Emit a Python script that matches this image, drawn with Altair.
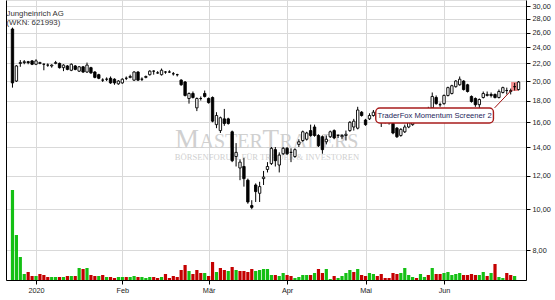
import altair as alt
import pandas as pd

# ---------------- data ----------------
opens = [26.5, 20.0, 22.0, 22.1, 22.2, 22.3, 21.9, 22.0, 21.9, 21.8,
         21.7, 22.0, 22.0, 21.5, 21.7, 21.2, 21.7, 21.1, 21.6, 21.0,
         21.5, 21.0, 20.7, 20.1, 20.2, 20.3, 20.2, 19.7, 19.8, 20.3,
         20.4, 20.1, 21.0, 20.2, 20.4, 20.7, 21.1, 20.9, 20.7, 21.0,
         21.0, 20.8, 20.7, 20.1, 19.9, 18.2, 18.7, 17.3, 18.2, 18.7,
         18.2, 18.3, 15.8, 15.3, 16.3, 16.3, 15.2, 13.3, 12.5, 12.6,
         11.7, 10.2, 11.4, 10.9, 11.8, 12.4, 12.8, 13.8, 12.7, 13.5,
         13.9, 13.6, 13.3, 14.2, 14.5, 14.6, 15.3, 15.6, 14.9, 14.8,
         14.4, 14.8, 15.3, 14.9, 14.8, 14.9, 15.3, 15.6, 15.5, 16.9,
         16.2, 16.3, 16.6, 16.6, 16.4, 16.1, 16.3, 15.9, 15.5, 14.9,
         15.2, 15.6, 15.8, 16.2, 16.6, 16.9, 16.8, 17.3, 18.3, 17.6,
         17.7, 18.5, 18.7, 19.4, 19.6, 20.0, 19.6, 18.4, 18.2, 17.6,
         18.3, 18.5, 18.6, 18.6, 18.3, 18.8, 19.0, 18.9, 19.4, 19.1]
closes = [19.8, 21.7, 22.1, 22.2, 22.1, 21.9, 22.3, 22.1, 21.9, 21.8,
          21.8, 22.1, 21.5, 21.8, 21.3, 21.9, 21.3, 21.6, 21.0, 21.8,
          20.9, 20.4, 20.3, 20.1, 20.2, 19.8, 19.8, 20.0, 20.2, 20.3,
          20.5, 21.0, 20.1, 20.2, 20.5, 21.1, 21.1, 20.9, 21.2, 21.0,
          21.0, 20.8, 20.7, 19.6, 18.5, 18.7, 18.3, 18.2, 18.2, 18.4,
          17.8, 16.1, 16.6, 16.4, 15.9, 15.9, 13.0, 13.6, 12.9, 11.8,
          10.4, 10.1, 11.0, 11.3, 11.9, 12.6, 13.9, 13.0, 13.4, 13.9,
          13.5, 13.6, 13.8, 14.4, 15.2, 15.1, 14.9, 14.9, 14.1, 13.8,
          14.6, 15.2, 14.7, 14.9, 14.9, 15.0, 16.0, 16.1, 17.1, 16.6,
          15.8, 16.6, 16.9, 16.4, 16.1, 16.3, 16.0, 15.1, 14.8, 15.4,
          15.6, 16.0, 16.2, 16.6, 16.9, 16.8, 17.2, 18.4, 17.7, 17.6,
          18.5, 19.3, 19.5, 20.0, 20.2, 19.1, 18.9, 17.9, 17.6, 18.1,
          18.7, 18.6, 18.5, 18.3, 18.9, 19.3, 19.0, 19.0, 19.4, 19.9]
highs = [26.7, 21.8, 22.4, 22.4, 22.3, 22.4, 22.5, 22.2, 22.0, 22.0,
         21.9, 22.3, 22.1, 21.9, 21.8, 22.0, 21.8, 21.7, 21.7, 22.1,
         21.6, 21.1, 20.8, 20.3, 20.4, 20.5, 20.3, 20.1, 20.3, 20.5,
         20.7, 21.1, 21.1, 20.4, 20.6, 21.2, 21.2, 21.1, 21.4, 21.1,
         21.2, 21.0, 20.8, 20.2, 20.0, 18.8, 18.9, 18.3, 18.4, 19.0,
         18.3, 18.4, 16.9, 16.5, 17.2, 16.4, 15.3, 14.3, 13.1, 13.2,
         11.8, 10.5, 11.5, 11.6, 12.3, 12.9, 14.0, 14.0, 13.6, 14.0,
         14.0, 13.9, 13.9, 14.6, 15.3, 15.2, 15.8, 15.8, 15.0, 14.9,
         14.9, 15.3, 15.4, 15.0, 15.0, 15.3, 16.1, 16.3, 17.4, 17.0,
         16.3, 16.8, 17.1, 16.9, 16.5, 16.6, 16.4, 16.1, 15.6, 15.5,
         15.8, 16.2, 16.4, 16.8, 17.1, 17.2, 17.4, 18.8, 18.5, 17.8,
         18.6, 19.4, 19.6, 20.1, 20.5, 20.1, 19.7, 18.5, 18.3, 18.2,
         18.9, 18.9, 18.8, 18.7, 19.1, 19.4, 19.3, 19.2, 19.8, 20.0]
lows = [19.3, 19.9, 21.6, 21.9, 21.9, 21.8, 21.8, 21.9, 21.2, 21.6,
        21.5, 21.9, 21.4, 21.1, 21.2, 21.1, 21.2, 21.0, 20.9, 20.9,
        20.8, 20.3, 20.2, 19.9, 20.0, 19.7, 19.6, 19.6, 19.7, 20.1,
        20.3, 20.0, 20.0, 20.0, 20.3, 20.6, 20.7, 20.8, 20.6, 20.8,
        20.9, 20.6, 20.5, 19.5, 18.4, 17.7, 18.2, 17.0, 18.0, 18.3,
        17.7, 16.0, 15.5, 15.1, 15.7, 15.8, 12.9, 12.6, 11.7, 11.3,
        10.3, 10.0, 10.4, 10.4, 11.4, 12.2, 12.7, 12.6, 12.2, 13.4,
        13.4, 12.9, 13.2, 14.0, 14.4, 14.5, 14.8, 14.8, 14.0, 13.5,
        14.2, 14.7, 14.6, 14.7, 14.6, 14.5, 15.2, 15.3, 15.4, 16.5,
        15.7, 16.2, 16.5, 16.2, 15.6, 15.9, 15.8, 15.0, 14.7, 14.8,
        15.1, 15.5, 15.7, 16.1, 16.4, 16.6, 16.7, 17.2, 17.6, 17.4,
        17.6, 18.4, 18.6, 19.3, 19.5, 19.0, 18.8, 17.8, 17.4, 17.1,
        18.2, 18.4, 18.3, 18.2, 18.2, 18.7, 18.6, 18.6, 19.0, 19.0]
# volume in thousand shares (last session has no volume bar)
volumes = [900, 450, 230, 60, 80, 40, 40, 60, 50, 30,
           30, 30, 30, 30, 40, 40, 40, 120, 110, 120,
           50, 40, 40, 50, 30, 30, 20, 30, 30, 30,
           30, 40, 30, 30, 20, 30, 30, 20, 30, 60,
           20, 40, 30, 100, 150, 90, 60, 100, 70, 70,
           40, 180, 80, 120, 100, 90, 130, 100, 90, 90,
           80, 110, 90, 100, 110, 110, 50, 50, 40, 70,
           50, 40, 20, 30, 50, 50, 50, 70, 110, 70,
           110, 10, 40, 20, 40, 70, 100, 80, 110, 50,
           40, 70, 60, 40, 60, 20, 20, 70, 60, 70,
           120, 50, 30, 20, 60, 30, 50, 120, 60, 60,
           70, 80, 50, 60, 70, 50, 50, 60, 50, 50,
           80, 40, 70, 160, 30, 20, 70, 50, 40]
vol_dir = ["up", "up", "up", "up", "down", "down", "up", "down", "down", "down",
           "up", "up", "down", "up", "down", "up", "down", "up", "down", "up",
           "down", "down", "up", "down", "up", "down", "down", "up", "up", "down",
           "up", "up", "down", "up", "up", "up", "down", "down", "up", "down",
           "down", "down", "down", "down", "down", "up", "down", "down", "down", "up",
           "down", "down", "up", "down", "down", "up", "down", "up", "down", "down",
           "down", "down", "up", "up", "up", "up", "up", "down", "up", "up",
           "down", "down", "up", "up", "up", "up", "down", "up", "down", "down",
           "up", "up", "down", "up", "up", "up", "up", "down", "up", "down",
           "down", "up", "up", "down", "down", "down", "down", "down", "down", "up",
           "up", "up", "up", "down", "up", "up", "down", "up", "down", "down",
           "up", "up", "up", "up", "up", "down", "down", "down", "down", "up",
           "up", "down", "up", "down", "up", "up", "down", "down", "up"]
month_idx = [6, 28, 50, 70, 90, 110]
month_labels = ["2020", "Feb", "Mär", "Apr", "Mai", "Jun"]
price_ticks = [8, 10, 12, 14, 16, 18, 20, 22, 24, 26, 28, 30]

title_lines = ["Jungheinrich AG", "(WKN: 621993)"]
note_text = "TraderFox Momentum Screener 2"
# watermark split into capitals / small caps
wm_parts = ["M", "ASTER", "T", "RADERS"]
wm_sizes = [27, 20, 27, 20]
wm_x = [169, 193.5, 256.5, 273.5]
watermark_sub = "BÖRSENFORUM FÜR TRADER & INVESTOREN"

# ---------------- tables ----------------
df = pd.DataFrame({"idx": list(range(len(opens))), "open": opens, "high": highs,
                   "low": lows, "close": closes})
vdf = pd.DataFrame({"idx": list(range(len(volumes))), "vol": volumes, "dir": vol_dir})

# annotation anchors (session index / price)
note_df = pd.DataFrame({"x1": [92.6], "x2": [122.6], "y1": [15.94], "y2": [17.29],
                        "xm": [107.6], "ym": [16.58], "t": [note_text]})
hl_df = pd.DataFrame({"x1": [127.1], "x2": [128.9], "y1": [18.95], "y2": [19.89]})
conn_df = pd.DataFrame({"x1": [122.9], "x2": [127.1], "y1": [17.3], "y2": [19.0]})

FONT = "Liberation Sans"
GRID = "#d9d9d9"
LABEL = "#222222"
WM = "#d0d0d0"

label_expr = " : ".join(f"datum.value == {i} ? '{m}'" for i, m in zip(month_idx, month_labels)) + " : ''"

xscale = alt.Scale(domain=[-0.375, 129.625], nice=False, zero=False)
yscale = alt.Scale(type="log", domain=[6.82, 31.0], nice=False, zero=False)

xaxis = alt.Axis(values=month_idx, labelExpr=label_expr, grid=True, gridColor=GRID,
                 domainColor="black", tickColor="black", tickSize=4, labelFont=FONT,
                 labelFontSize=7.3, labelColor=LABEL, labelPadding=2, title=None,
                 labelFlush=False)
yaxis = alt.Axis(orient="right", values=price_ticks,
                 labelExpr="replace(format(datum.value, '.2f'), '.', ',')",
                 grid=True, gridColor=GRID, domainColor="black", tickColor="black",
                 tickSize=4, labelFont=FONT, labelFontSize=7.3, labelColor=LABEL,
                 labelPadding=2, title=None)

X = alt.X("idx:Q", scale=xscale, axis=xaxis)

vol = alt.Chart(vdf).mark_bar(size=3.2).encode(
    x=X,
    y=alt.Y("vol:Q", scale=alt.Scale(domain=[0, 2800], nice=False),
            axis=alt.Axis(orient="left", labels=False, ticks=False, grid=False,
                          domainColor="black", title=None)),
    color=alt.Color("dir:N", scale=alt.Scale(domain=["up", "down"],
                                             range=["#14c014", "#c40000"]), legend=None),
)

wm_layers = []
for part, size, px in zip(wm_parts, wm_sizes, wm_x):
    wm_layers.append(
        alt.Chart(pd.DataFrame({"t": [part]})).mark_text(
            font="Liberation Serif", fontSize=size, color=WM, baseline="alphabetic",
            align="left"
        ).encode(text="t:N", x=alt.value(px), y=alt.value(148)))
wm2 = alt.Chart(pd.DataFrame({"t": [watermark_sub]})).mark_text(
    font="Liberation Serif", fontSize=8.6, color=WM, baseline="alphabetic", align="center"
).encode(text="t:N", x=alt.value(261), y=alt.value(160))

wick = alt.Chart(df).mark_rule(color="black", strokeWidth=1).encode(
    x=X, y=alt.Y("low:Q", scale=yscale, axis=yaxis), y2="high:Q")
body = alt.Chart(df).mark_bar(size=2.4, stroke="black", strokeWidth=0.9).encode(
    x=X, y=alt.Y("open:Q", scale=yscale, axis=yaxis), y2="close:Q",
    fill=alt.condition("datum.close >= datum.open", alt.value("white"), alt.value("black")))

hl = alt.Chart(hl_df).mark_rect(color="#f07878", opacity=0.85).encode(
    x=alt.X("x1:Q", scale=xscale, axis=xaxis), x2="x2:Q",
    y=alt.Y("y1:Q", scale=yscale, axis=yaxis), y2="y2:Q")
conn = alt.Chart(conn_df).mark_rule(color="#a01010", strokeWidth=1).encode(
    x=alt.X("x1:Q", scale=xscale, axis=xaxis), x2="x2:Q",
    y=alt.Y("y1:Q", scale=yscale, axis=yaxis), y2="y2:Q")
box = alt.Chart(note_df).mark_rect(fill="white", stroke="#a81c1c", strokeWidth=1.4,
                                   cornerRadius=4).encode(
    x=alt.X("x1:Q", scale=xscale, axis=xaxis), x2="x2:Q",
    y=alt.Y("y1:Q", scale=yscale, axis=yaxis), y2="y2:Q")
note = alt.Chart(note_df).mark_text(font=FONT, fontSize=7.6, color="#1e1e5a",
                                    align="center", baseline="middle").encode(
    x=alt.X("xm:Q", scale=xscale, axis=xaxis),
    y=alt.Y("ym:Q", scale=yscale, axis=yaxis), text="t:N")

ttl = alt.Chart(pd.DataFrame({"t": [title_lines[0]]})).mark_text(
    font=FONT, fontSize=7.8, color="#333333", align="left", baseline="alphabetic"
).encode(text="t:N", x=alt.value(0.5), y=alt.value(15.5))
ttl2 = alt.Chart(pd.DataFrame({"t": [title_lines[1]]})).mark_text(
    font=FONT, fontSize=7.8, color="#333333", align="left", baseline="alphabetic"
).encode(text="t:N", x=alt.value(0.5), y=alt.value(25))

price = alt.layer(hl, wick, body, conn, box, note)

chart = alt.layer(vol, *wm_layers, wm2, price, ttl, ttl2).resolve_scale(y="independent").properties(
    width=520, height=280,
    autosize=alt.AutoSizeParams(type="none"),
    padding={"left": 6, "top": 0, "right": 29, "bottom": 20},
).configure_view(stroke=None).configure(background="white")

chart.save("out.html", embed_options={"renderer": "svg", "actions": False})
